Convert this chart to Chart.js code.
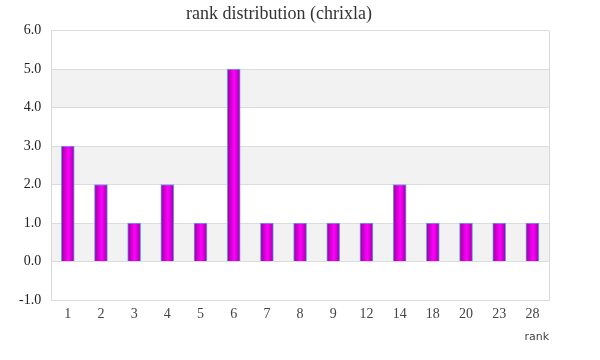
<!DOCTYPE html>
<html><head><meta charset="utf-8">
<script src="https://cdn.jsdelivr.net/npm/chart.js@4"></script>
<style>html,body{margin:0;padding:0;background:#fff}#wrap{width:600px;height:360px}</style>
</head><body><div id="wrap"><canvas id="c" width="600" height="360"></canvas></div>
<script>
const categories = ["1","2","3","4","5","6","7","8","9","12","14","18","20","23","28"];
const counts = [3,2,1,2,1,5,1,1,1,1,2,1,1,1,1];
const yTicks = [-1,0,1,2,3,4,5,6];
const titleText = "rank distribution (chrixla)";
const xTitle = "rank";

const BAR_W = 13;
const bandsPlugin = {
  id: 'bands',
  beforeDraw(chart) {
    const {ctx, chartArea: a, scales: {y}} = chart;
    ctx.save();
    ctx.fillStyle = '#f2f2f2';
    [[4,5],[2,3],[0,1]].forEach(([lo,hi]) => {
      const t = y.getPixelForValue(hi), b = y.getPixelForValue(lo);
      ctx.fillRect(a.left, t, a.right - a.left, b - t);
    });
    ctx.restore();
  },
  afterDraw(chart) {
    const {ctx, chartArea: a} = chart;
    ctx.save();
    ctx.strokeStyle = '#d9d9d9';
    ctx.lineWidth = 1;
    ctx.beginPath();
    ctx.moveTo(a.right + 0.5, a.top);
    ctx.lineTo(a.right + 0.5, a.bottom + 0.5);
    ctx.lineTo(a.left, a.bottom + 0.5);
    ctx.stroke();
    ctx.restore();
  }
};

function barGradient(context) {
  const chart = context.chart;
  const xs = chart.scales.x;
  if (!xs || context.dataIndex === undefined) return '#e000e0';
  const cx = xs.getPixelForValue(context.dataIndex);
  if (!isFinite(cx)) return '#e000e0';
  const g = chart.ctx.createLinearGradient(cx - BAR_W/2, 0, cx + BAR_W/2, 0);
  g.addColorStop(0, '#9c009c');
  g.addColorStop(0.55, '#ff00ff');
  g.addColorStop(1, '#a000a0');
  return g;
}

new Chart(document.getElementById('c'), {
  type: 'bar',
  data: {
    labels: categories,
    datasets: [{
      data: counts,
      backgroundColor: barGradient,
      borderColor: '#5fa8f0',
      borderWidth: 1,
      barThickness: BAR_W
    }]
  },
  options: {
    responsive: false,
    animation: false,
    layout: { padding: { left: 9, right: 51, top: 0, bottom: 16 } },
    plugins: {
      legend: { display: false },
      tooltip: { enabled: false },
      title: {
        display: true, text: titleText, color: '#333',
        font: { family: 'Liberation Serif', size: 18, weight: 'normal' },
        padding: { top: 3, bottom: 6 }
      }
    },
    scales: {
      x: {
        grid: { display: false, drawTicks: false },
        border: { color: '#d9d9d9' },
        ticks: { color: '#444', font: { family: 'Liberation Serif', size: 14 }, padding: 6 },
        title: { display: true, text: xTitle, align: 'end', color: '#444',
          font: { family: 'DejaVu Sans', size: 11 }, padding: { top: 2, bottom: 0 } }
      },
      y: {
        min: -1, max: 6,
        afterBuildTicks(scale) { scale.ticks = yTicks.map(v => ({ value: v })); },
        grid: { color: '#dcdcdc', drawTicks: false },
        border: { color: '#d9d9d9' },
        ticks: { color: '#222', font: { family: 'Liberation Serif', size: 14 }, padding: 10,
          callback: v => Number(v).toFixed(1) }
      }
    }
  },
  plugins: [bandsPlugin]
});
</script>
</body></html>
